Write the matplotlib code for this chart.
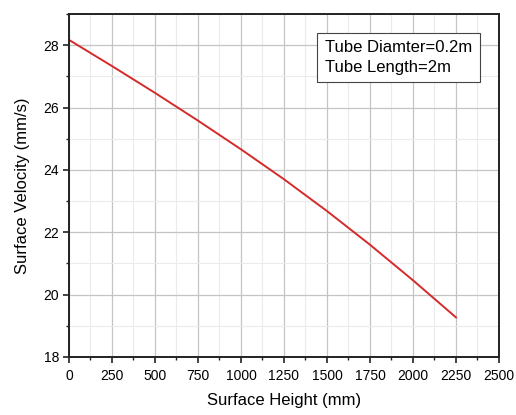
import matplotlib

matplotlib.use("Agg")
import matplotlib.pyplot as plt
from matplotlib.ticker import MultipleLocator

# values
height_mm = [0, 250, 500, 750, 1000, 1250, 1500, 1750, 2000, 2250]
velocity_mm_s = [28.17, 27.33, 26.47, 25.58, 24.66, 23.70, 22.68, 21.60, 20.46, 19.27]
x_ticks = [0, 250, 500, 750, 1000, 1250, 1500, 1750, 2000, 2250, 2500]
y_ticks = [18, 20, 22, 24, 26, 28]
note_lines = ["Tube Diamter=0.2m", "Tube Length=2m"]

plt.rcParams["font.family"] = ["Liberation Sans", "DejaVu Sans"]

fig = plt.figure(figsize=(5.16, 4.15), dpi=100)
ax = fig.add_axes([0.1337, 0.1398, 0.8333, 0.8265])

ax.plot(height_mm, velocity_mm_s, color="#d42a2a", lw=1.4)

ax.set_xlim(0, 2500)
ax.set_ylim(18, 29)
ax.set_xticks(x_ticks)
ax.set_yticks(y_ticks)
ax.xaxis.set_minor_locator(MultipleLocator(125))
ax.yaxis.set_minor_locator(MultipleLocator(1))

ax.grid(which="major", color="#c4c4c4", lw=0.9)
ax.grid(which="minor", color="#ebebeb", lw=0.8)
ax.set_axisbelow(True)

ax.tick_params(which="major", direction="out", length=4, width=1.2,
               labelsize=10, color="#222222")
ax.tick_params(which="minor", direction="out", length=2.5, width=1.0,
               color="#222222")
ax.tick_params(axis="x", which="major", pad=5)
ax.tick_params(axis="y", which="major", pad=3)

for side in ["left", "bottom", "top", "right"]:
    ax.spines[side].set_linewidth(1.4)
    ax.spines[side].set_color("#222222")

ax.set_xlabel("Surface Height (mm)", fontsize=12, labelpad=7)
ax.set_ylabel("Surface Velocity (mm/s)", fontsize=12, labelpad=10)

ax.text(0.595, 0.873, "\n".join(note_lines), transform=ax.transAxes,
        ha="left", va="center", fontsize=12, linespacing=1.4,
        bbox=dict(boxstyle="square,pad=0.45", fc="white", ec="#444444", lw=0.8))

fig.savefig("out.png", dpi=100)
